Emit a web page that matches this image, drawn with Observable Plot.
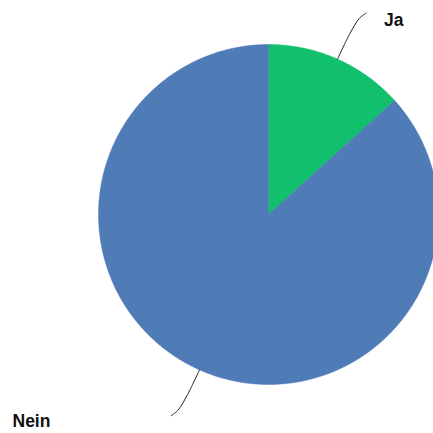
<!DOCTYPE html>
<html>
<head>
<meta charset="utf-8">
<script src="https://cdn.jsdelivr.net/npm/d3@7"></script>
<script src="https://cdn.jsdelivr.net/npm/@observablehq/plot@0.6"></script>
<style>
  html, body { margin: 0; padding: 0; background: #fff; }
  #chart svg { display: block; }
</style>
</head>
<body>
<div id="chart"></div>
<script>
const labels = ["Ja", "Nein"];
const values = [13.3, 86.7];
const colors = ["#12bf6c", "#4f7bb6"];

const W = 433, H = 433;
const R = 170, cx = 268, cy = 214;

const arcs = d3.pie().sort(null)(values);

// wedge polygons
const wedgePts = [];
arcs.forEach((a, i) => {
  const lab = labels[i];
  wedgePts.push({label: lab, x: 0, y: 0});
  const n = Math.max(2, Math.ceil((a.endAngle - a.startAngle) / 0.005));
  for (let k = 0; k <= n; k++) {
    const t = a.startAngle + (a.endAngle - a.startAngle) * k / n;
    wedgePts.push({label: lab, x: Math.sin(t), y: Math.cos(t)});
  }
  wedgePts.push({label: lab, x: 0, y: 0});
});

// leader lines (radius, angular offset in degrees)
const leaderShape = [[1.0, 0], [1.17, 0.3], [1.27, 0.9], [1.315, 1.9]];
const leaderPts = [];
const leaderEnds = [];
arcs.forEach((a, i) => {
  const mid = (a.startAngle + a.endAngle) / 2;
  leaderShape.forEach(([r, d]) => {
    const t = mid + d * Math.PI / 180;
    leaderPts.push({label: labels[i], x: r * Math.sin(t), y: r * Math.cos(t)});
  });
  const [r, d] = leaderShape[leaderShape.length - 1];
  const t = mid + d * Math.PI / 180;
  leaderEnds.push({label: labels[i], x: r * Math.sin(t), y: r * Math.cos(t)});
});

const plot = Plot.plot({
  width: W,
  height: H,
  margin: 0,
  style: {fontFamily: "'Liberation Sans', Arial, sans-serif", background: "#fff"},
  x: {domain: [-cx / R, (W - cx) / R], axis: null},
  y: {domain: [-(H - cy) / R, cy / R], axis: null},
  color: {domain: labels, range: colors},
  marks: [
    Plot.line(wedgePts, {x: "x", y: "y", z: "label", fill: "label", stroke: "label", strokeWidth: 0.5, curve: "linear-closed"}),
    Plot.line(leaderPts, {x: "x", y: "y", z: "label", stroke: "#222", strokeWidth: 1, curve: "catmull-rom"}),
    Plot.text(leaderEnds.filter(d => d.label === "Ja"), {
      x: "x", y: "y", text: "label", dx: 18, dy: 7,
      textAnchor: "start", fontSize: 17.5, fontWeight: "bold", fill: "#111"
    }),
    Plot.text(leaderEnds.filter(d => d.label === "Nein"), {
      text: "label", frameAnchor: "bottom-left", dx: 12, dy: -12,
      textAnchor: "start", lineAnchor: "middle", fontSize: 17.5, fontWeight: "bold", fill: "#111"
    })
  ]
});
document.getElementById("chart").appendChild(plot);
</script>
</body>
</html>
